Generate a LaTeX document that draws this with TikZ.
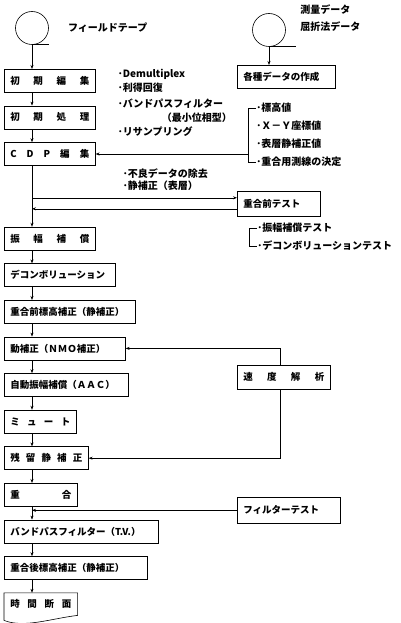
\documentclass[tikz,border=0pt]{standalone}
\usepackage{fontspec}
\setmainfont{Noto Sans CJK JP}
\usetikzlibrary{arrows.meta,positioning,calc}

\newcommand{\spreadtext}[1]{\makebox[\linewidth]{#1}}

\begin{document}
\begin{tikzpicture}[
  x=1pt,y=-1pt,
  font=\fontsize{9.5}{11}\selectfont\bfseries,
  line width=0.6pt,
  proc/.style={draw,anchor=north west,minimum height=23pt,
               inner xsep=6pt,inner ysep=2pt,align=left,text width=#1},
  proc/.default=79pt,
  under/.style={below=13pt of #1.south west,anchor=north west},
  tape/.style={draw,circle,minimum size=33pt,inner sep=0pt},
  note/.style={font=\fontsize{10}{14}\selectfont\bfseries,align=left,inner sep=0pt},
  item/.style={font=\fontsize{10}{11}\selectfont\bfseries,anchor=west,inner sep=0pt},
  itemrow/.style={below=18pt of #1.west,anchor=west},
  arr/.style={-{Stealth[length=4pt,width=3pt]}},
]
  \useasboundingbox (0,0) rectangle (401,623);

  % main flow
  \node[tape] (c1) at (32,28) {};
  \node[proc] (b1) at (4,69) {\spreadtext{初\hfill 期\hfill 編\hfill 集}};
  \node[proc,under=b1] (b2) {\spreadtext{初\hfill 期\hfill 処\hfill 理}};
  \node[proc,under=b2] (b3) {\spreadtext{C\hfill D\hfill P\hfill 編\hfill 集}};
  \node[proc,below=61pt of b3.south west,anchor=north west] (b4)
    {\spreadtext{振\hfill 幅\hfill 補\hfill 償}};
  \node[proc=99pt,under=b4] (b5) {デコンボリューション};
  \node[proc=119pt,under=b5] (b6) {重合前標高補正（静補正）};
  \node[proc=109pt,under=b6] (b7) {動補正（ＮＭＯ補正）};
  \node[proc=112pt,under=b7] (b8) {自動振幅補償（ＡＡＣ）};
  \node[proc=60pt,under=b8] (b9) {\spreadtext{ミ\hfill ュ\hfill ー\hfill ト}};
  \node[proc=72pt,under=b9] (b10) {\spreadtext{残\hfill 留\hfill 静\hfill 補\hfill 正}};
  \node[proc=61pt,under=b10] (b11) {\spreadtext{重\hfill 合}};
  \node[proc=142pt,under=b11] (b12) {バンドパスフィルター（T.V.）};
  \node[proc=131pt,under=b12] (b13) {重合後標高補正（静補正）};
  \node[proc=61pt,draw=none,minimum height=22pt,under=b13] (b14)
    {\spreadtext{時\hfill 間\hfill 断\hfill 面}};
  \draw (b14.north east) -- (b14.north west) -- ([yshift=-5pt]b14.south west)
    .. controls +(20pt,-8pt) and +(-26pt,-3pt) .. (b14.south east) -- cycle;

  % side boxes
  \node[tape] (c2) at (269,30) {};
  \node[proc=86pt] (k1) at (237,65) {各種データの作成};
  \node[proc=71pt,minimum height=25pt] (t1) at (237,191) {重合前テスト};
  \node[proc=81pt,minimum height=24pt] (v1) at (237,365)
    {\spreadtext{速\hfill 度\hfill 解\hfill 析}};
  \node[proc=91pt,minimum height=26pt] (f1) at (237,497) {フィルターテスト};

  % labels
  \node[note,right=19pt of c1] (ft) {フィールドテープ};
  \node[note,font=\fontsize{10}{17}\selectfont\bfseries,anchor=west] (sd) at (300,18)
    {測量データ\\屈折法データ};
  \node[note,right=22pt of b1] (n1) {･Demultiplex\\･利得回復};
  \node[note,right=22pt of b2] (n2)
    {･バンドパスフィルター\\\hspace*{44pt}（最小位相型）\\･リサンプリング};
  \node[note,font=\fontsize{10}{12}\selectfont\bfseries,
        below right=3pt and 27pt of b3.south east] (n3)
    {･不良データの除去\\･静補正（表層）};

  \node[item] (r1) at (256,108) {･標高値};
  \node[item,itemrow=r1] (r2) {･Ｘ－Ｙ座標値};
  \node[item,itemrow=r2] (r3) {･表層静補正値};
  \node[item,itemrow=r3] (r4) {･重合用測線の決定};
  \coordinate (br) at ([xshift=-8pt]r1.west);
  \draw (r1.west) -- (br) |- (r4.west);

  \node[item] (s1) at (257,228) {･振幅補償テスト};
  \node[item,itemrow=s1] (s2) {･デコンボリューションテスト};
  \coordinate (br2) at ([xshift=-8pt]s1.west);
  \draw (s1.west) -- (br2) |- (s2.west);

  % connectors
  \draw (c1.south) -- ++(17,0);
  \draw (c2.south) -- ++(27,0);
  \draw[arr] (c1.south) -- (c1.south |- b1.north);
  \draw[arr] (c2.south) -- (c2.south |- k1.north);
  \draw[arr] (b1.south -| c1) -- (b2.north -| c1);
  \draw[arr] (b2.south -| c1) -- (b3.north -| c1);
  \draw[arr] (b3.south -| c1) -- (b4.north -| c1);
  \draw[arr] (b4.south -| c1) -- (b5.north -| c1);
  \draw[arr] (b5.south -| c1) -- (b6.north -| c1);
  \draw[arr] (b6.south -| c1) -- (b7.north -| c1);
  \draw[arr] (b7.south -| c1) -- (b8.north -| c1);
  \draw[arr] (b8.south -| c1) -- (b9.north -| c1);
  \draw[arr] (b9.south -| c1) -- (b10.north -| c1);
  \draw[arr] (b10.south -| c1) -- (b11.north -| c1);
  \draw[arr] (b11.south -| c1) -- (b12.north -| c1);
  \draw[arr] (b12.south -| c1) -- (b13.north -| c1);
  \draw[arr] (b13.south -| c1) -- (b14.north -| c1);

  \draw[arr] (br |- b3.east) -- (b3.east);
  \coordinate (t1in) at ([yshift=6pt]t1.west);
  \coordinate (t1out) at ([yshift=-5pt]t1.west);
  \draw[arr] (t1in -| c1) -- (t1in);
  \draw[arr] (t1out) -- (t1out -| c1);
  \draw[arr] ([xshift=-4pt]v1.north) |- (b7.east);
  \draw[arr] ([xshift=-4pt]v1.south) |- (b10.east);
  \draw[arr] (f1.west) -- (f1.west -| c1);
\end{tikzpicture}
\end{document}
